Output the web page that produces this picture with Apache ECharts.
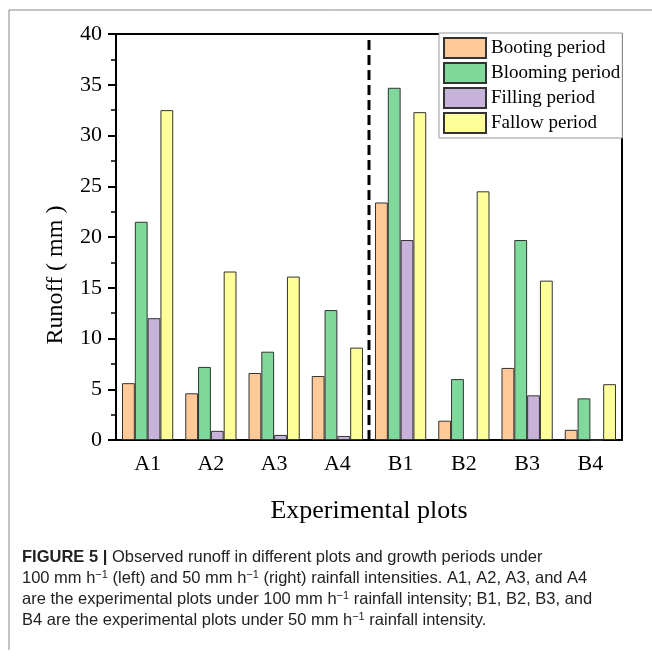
<!DOCTYPE html>
<html>
<head>
<meta charset="utf-8">
<script src="https://cdn.jsdelivr.net/npm/echarts@6/dist/echarts.min.js"></script>
<style>
  html, body { margin: 0; padding: 0; background: #fff; }
  #chart { width: 652px; height: 662px; }
</style>
</head>
<body>
<div id="chart"></div>
<script>
// 试验小区
const plots = ['A1', 'A2', 'A3', 'A4', 'B1', 'B2', 'B3', 'B4']
const periods = ['Booting period', 'Blooming period', 'Filling period', 'Fallow period']
// 径流量 (mm)
const booting = [5.6, 4.6, 6.6, 6.3, 23.4, 1.9, 7.1, 1.0]
const blooming = [21.5, 7.2, 8.7, 12.8, 34.7, 6.0, 19.7, 4.1]
const filling = [12.0, 0.9, 0.5, 0.4, 19.7, 0.1, 4.4, 0]
const fallow = [32.5, 16.6, 16.1, 9.1, 32.3, 24.5, 15.7, 5.5]
// 分隔线 (100 mm/h 与 50 mm/h 之间)
const dividerPos = 4
const dividerTop = 39.4

const colors = ['#FFCA98', '#7ED99B', '#C7B3D9', '#FFFF99']
const serif = 'Liberation Serif'

const chart = echarts.init(document.getElementById('chart'))

const barSeries = [booting, blooming, filling, fallow].map((d, i) => ({
  name: periods[i],
  type: 'bar',
  data: d,
  barGap: '0%',
  barCategoryGap: '19%',
  itemStyle: {
    color: colors[i],
    borderColor: '#333',
    borderWidth: 1
  }
}))

const options = {
  animation: false,
  grid: {
    left: 116,
    right: 30,
    top: 34,
    bottom: 222,
    show: true,
    borderColor: '#000',
    borderWidth: 2
  },
  legend: {
    orient: 'vertical',
    left: 439,
    top: 33,
    data: periods,
    icon: 'rect',
    itemWidth: 42,
    itemHeight: 20,
    itemGap: 3,
    padding: [4, 2, 4, 4],
    borderColor: '#999',
    borderWidth: 1,
    backgroundColor: '#fff',
    textStyle: { fontFamily: serif, fontSize: 19, color: '#000' }
  },
  xAxis: [
    {
      type: 'category',
      data: plots,
      name: 'Experimental plots',
      nameLocation: 'middle',
      nameGap: 58,
      nameTextStyle: { fontFamily: serif, fontSize: 26, color: '#000' },
      axisLine: { lineStyle: { color: '#000', width: 2 } },
      axisTick: { alignWithLabel: true, length: 8, lineStyle: { width: 2, color: '#000' } },
      axisLabel: { fontFamily: serif, fontSize: 22, color: '#000', margin: 13 }
    },
    {
      type: 'value',
      min: 0,
      max: 8,
      show: false
    }
  ],
  yAxis: {
    type: 'value',
    min: 0,
    max: 40,
    interval: 5,
    name: 'Runoff ( mm )',
    nameLocation: 'middle',
    nameGap: 48,
    // 名称整体下移
    nameTextStyle: { fontFamily: serif, fontSize: 24, color: '#000', padding: [0, 76, 0, 0] },
    axisLine: { show: true, lineStyle: { color: '#000', width: 2 } },
    axisTick: { show: true, length: 8, lineStyle: { width: 2, color: '#000' } },
    minorTick: { show: true, splitNumber: 2, length: 5, lineStyle: { width: 1.5, color: '#000' } },
    splitLine: { show: false },
    axisLabel: { fontFamily: serif, fontSize: 22, color: '#000', margin: 14 }
  },
  series: [
    ...barSeries,
    {
      name: 'divider',
      type: 'line',
      xAxisIndex: 1,
      data: [[dividerPos, 0], [dividerPos, dividerTop]],
      symbol: 'none',
      silent: true,
      z: 5,
      lineStyle: { color: '#000', width: 3, type: [10, 5] }
    }
  ],
  graphic: [
    // 图框
    {
      type: 'polyline',
      shape: { points: [[9, 650], [9, 10], [652, 10]] },
      style: { stroke: '#888', lineWidth: 1, fill: null }
    },
    {
      type: 'text',
      left: 22,
      top: 547,
      style: {
        text: '{b|FIGURE 5 |} Observed runoff in different plots and growth periods under\n' +
          '100 mm h{s|−1} (left) and 50 mm h{s|−1} (right) rainfall intensities. A1, A2, A3, and A4\n' +
          'are the experimental plots under 100 mm h{s|−1} rainfall intensity; B1, B2, B3, and\n' +
          'B4 are the experimental plots under 50 mm h{s|−1} rainfall intensity.',
        font: '16.5px "Liberation Sans"',
        fill: '#222',
        lineHeight: 21,
        rich: {
          b: { fontWeight: 'bold', fontSize: 16.5, fontFamily: 'Liberation Sans', fill: '#222', lineHeight: 21 },
          s: { fontSize: 11, fontFamily: 'Liberation Sans', fill: '#222', verticalAlign: 'top', lineHeight: 21, padding: [1, 0, 0, 0] }
        }
      }
    }
  ]
}

chart.setOption(options, true)
window.addEventListener('resize', () => {
  chart.resize()
})
</script>
</body>
</html>
